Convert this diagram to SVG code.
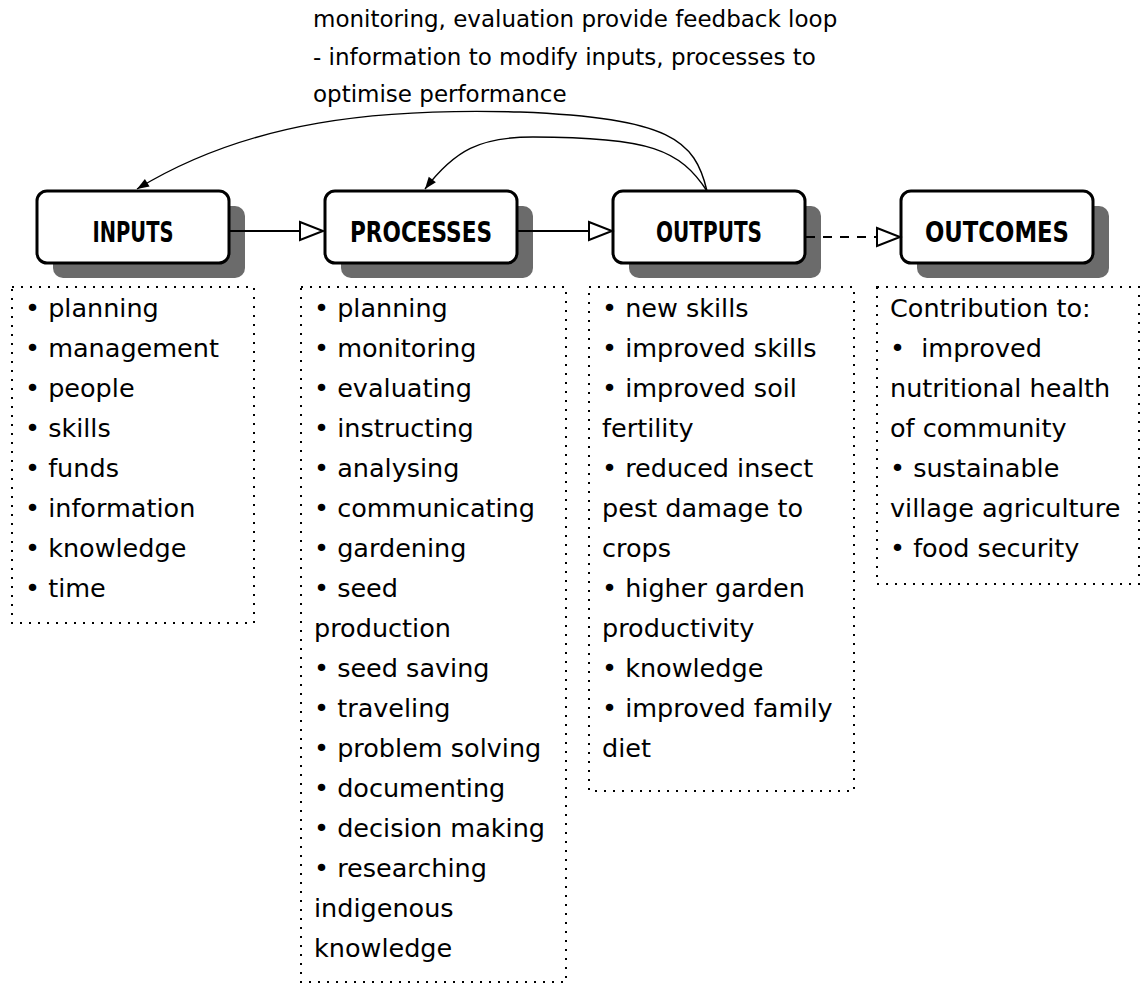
<svg xmlns="http://www.w3.org/2000/svg" width="1144" height="985" viewBox="0 0 1144 985">
<style>
  .box { fill: #ffffff; stroke: #000000; stroke-width: 3; }
  .shadow { fill: #6b6b6b; stroke: none; }
  .label { font-family: "Liberation Sans Narrow", "DejaVu Sans Condensed", "Liberation Sans", sans-serif; font-weight: bold; font-size: 28px; fill: #000; text-anchor: middle; }
  .list { fill: none; stroke: #000; stroke-width: 2; stroke-dasharray: 2 7; }
  .t { font-family: "DejaVu Sans", "Liberation Sans", sans-serif; font-size: 25.5px; fill: #000; white-space: pre; }
  .top { font-family: "DejaVu Sans", "Liberation Sans", sans-serif; font-size: 23px; fill: #000; }
  .conn { fill: none; stroke: #000; stroke-width: 2; }
  .fb { fill: none; stroke: #000; stroke-width: 1.4; }
</style>
<defs>
  <marker id="open" markerUnits="userSpaceOnUse" markerWidth="26" markerHeight="22" refX="23" refY="9" orient="auto" overflow="visible">
    <path d="M0,0 L23,9 L0,18 Z" fill="#fff" stroke="#000" stroke-width="2"/>
  </marker>
  <marker id="solid" markerUnits="userSpaceOnUse" markerWidth="14" markerHeight="12" refX="12" refY="4.5" orient="auto" overflow="visible">
    <path d="M0,0 L12,4.5 L0,9 Z" fill="#000"/>
  </marker>
</defs>

<g id="annotation">
  <text class="top" x="313" y="27">monitoring, evaluation provide feedback loop</text>
  <text class="top" x="313" y="64.5">- information to modify inputs, processes to</text>
  <text class="top" x="313" y="102">optimise performance</text>
</g>

<g id="node-inputs">
  <rect class="shadow" x="53" y="206" width="192" height="72" rx="10"/>
  <rect class="box" x="37" y="191" width="192" height="72" rx="10"/>
  <text class="label" x="133" y="242" textLength="81" lengthAdjust="spacingAndGlyphs">INPUTS</text>
  <rect class="list" x="12" y="287" width="242" height="336"/>
  <text class="t" x="25" y="317">• planning</text>
  <text class="t" x="25" y="357">• management</text>
  <text class="t" x="25" y="397">• people</text>
  <text class="t" x="25" y="437">• skills</text>
  <text class="t" x="25" y="477">• funds</text>
  <text class="t" x="25" y="517">• information</text>
  <text class="t" x="25" y="557">• knowledge</text>
  <text class="t" x="25" y="597">• time</text>
</g>

<g id="node-processes">
  <rect class="shadow" x="341" y="206" width="192" height="72" rx="10"/>
  <rect class="box" x="325" y="191" width="192" height="72" rx="10"/>
  <text class="label" x="421" y="242" textLength="142" lengthAdjust="spacingAndGlyphs">PROCESSES</text>
  <rect class="list" x="301" y="287" width="265" height="695"/>
  <text class="t" x="314" y="317">• planning</text>
  <text class="t" x="314" y="357">• monitoring</text>
  <text class="t" x="314" y="397">• evaluating</text>
  <text class="t" x="314" y="437">• instructing</text>
  <text class="t" x="314" y="477">• analysing</text>
  <text class="t" x="314" y="517">• communicating</text>
  <text class="t" x="314" y="557">• gardening</text>
  <text class="t" x="314" y="597">• seed</text>
  <text class="t" x="314" y="637">production</text>
  <text class="t" x="314" y="677">• seed saving</text>
  <text class="t" x="314" y="717">• traveling</text>
  <text class="t" x="314" y="757">• problem solving</text>
  <text class="t" x="314" y="797">• documenting</text>
  <text class="t" x="314" y="837">• decision making</text>
  <text class="t" x="314" y="877">• researching</text>
  <text class="t" x="314" y="917">indigenous</text>
  <text class="t" x="314" y="957">knowledge</text>
</g>

<g id="node-outputs">
  <rect class="shadow" x="629" y="206" width="192" height="72" rx="10"/>
  <rect class="box" x="613" y="191" width="192" height="72" rx="10"/>
  <text class="label" x="709" y="242" textLength="106" lengthAdjust="spacingAndGlyphs">OUTPUTS</text>
  <rect class="list" x="589" y="287" width="265" height="504"/>
  <text class="t" x="602" y="317">• new skills</text>
  <text class="t" x="602" y="357">• improved skills</text>
  <text class="t" x="602" y="397">• improved soil</text>
  <text class="t" x="602" y="437">fertility</text>
  <text class="t" x="602" y="477">• reduced insect</text>
  <text class="t" x="602" y="517">pest damage to</text>
  <text class="t" x="602" y="557">crops</text>
  <text class="t" x="602" y="597">• higher garden</text>
  <text class="t" x="602" y="637">productivity</text>
  <text class="t" x="602" y="677">• knowledge</text>
  <text class="t" x="602" y="717">• improved family</text>
  <text class="t" x="602" y="757">diet</text>
</g>

<g id="node-outcomes">
  <rect class="shadow" x="917" y="206" width="192" height="72" rx="10"/>
  <rect class="box" x="901" y="191" width="192" height="72" rx="10"/>
  <text class="label" x="997" y="242" textLength="144" lengthAdjust="spacingAndGlyphs">OUTCOMES</text>
  <rect class="list" x="877" y="287" width="262" height="297"/>
  <text class="t" x="890" y="317">Contribution to:</text>
  <text class="t" x="890" y="357" xml:space="preserve">•  improved</text>
  <text class="t" x="890" y="397">nutritional health</text>
  <text class="t" x="890" y="437">of community</text>
  <text class="t" x="890" y="477">• sustainable</text>
  <text class="t" x="890" y="517">village agriculture</text>
  <text class="t" x="890" y="557">• food security</text>
</g>

<g id="connectors">
  <path class="conn" d="M229,231 L323,231" marker-end="url(#open)"/>
  <path class="conn" d="M517,231 L612,231" marker-end="url(#open)"/>
  <path class="conn" d="M806,237 L877,237" stroke-dasharray="9 8"/>
  <path class="conn" d="M877,237 L900,237" marker-end="url(#open)"/>
  <path class="fb" d="M707,191 C695,140 670,118 520,112 C380,108 250,120 137,189" marker-end="url(#solid)"/>
  <path class="fb" d="M707,191 C680,150 650,137 533,137 C480,137 455,150 425,189" marker-end="url(#solid)"/>
</g>
</svg>
